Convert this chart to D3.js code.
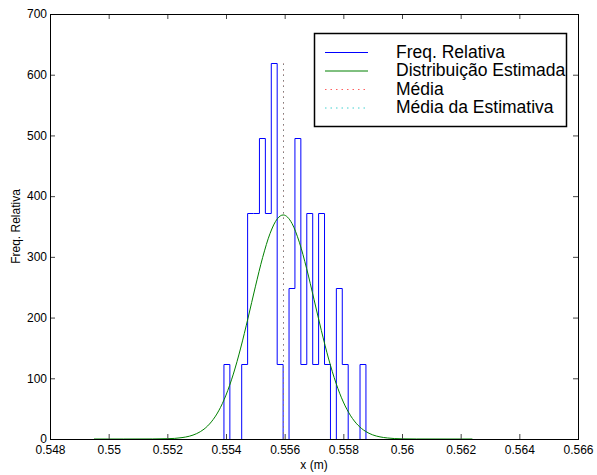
<!DOCTYPE html>
<html lang="pt">
<head>
    <meta charset="UTF-8">
    <title>Freq. Relativa</title>
    <script src="https://cdn.jsdelivr.net/npm/d3@7"></script>
    <style>
        body { margin: 0; background: #fff; }
        svg { font-family: "Liberation Sans", Arial, sans-serif; }
    </style>
</head>
<body>
    <svg id="mainsvg" width="597" height="475"></svg>
    <script>
        // histogram bin edges and relative frequency per bin
        const binEdges = [0.553930, 0.554132, 0.554333, 0.554535, 0.554737, 0.554939, 0.555140,
            0.555342, 0.555544, 0.555745, 0.555947, 0.556149, 0.556350, 0.556552, 0.556754,
            0.556956, 0.557157, 0.557359, 0.557561, 0.557762, 0.557964, 0.558166, 0.558367,
            0.558569, 0.558771];
        const binFreq = [123.9, 0, 0, 123.9, 371.8, 371.8, 495.8, 371.8, 619.7, 123.9, 0, 247.9,
            495.8, 123.9, 371.8, 123.9, 371.8, 123.9, 0, 247.9, 123.9, 0, 0, 123.9];

        // estimated distribution, points
        const curveX = [0.5495, 0.5505, 0.5515, 0.5520, 0.55225, 0.5525, 0.55275, 0.5530, 0.55325,
            0.5535, 0.55375, 0.5540, 0.55425, 0.5545, 0.55475, 0.5550, 0.55525, 0.5555, 0.55575,
            0.55595, 0.55625, 0.5565, 0.55675, 0.5570, 0.55725, 0.5575, 0.55775, 0.5580, 0.55825,
            0.5585, 0.55875, 0.5590, 0.55925, 0.5595, 0.5600, 0.5605, 0.5615, 0.5624];
        const curveY = [0, 0, 0.1, 0.5, 1.0, 2.3, 4.6, 8.9, 16.2, 28.2, 46.3, 72.3, 106.9, 149.8,
            199.0, 250.6, 299.1, 338.3, 362.7, 369.0, 355.0, 324.1, 280.5, 230.0, 178.8, 131.7,
            92.0, 60.9, 38.2, 22.7, 12.8, 6.8, 3.5, 1.7, 0.3, 0.05, 0, 0];

        const meanValue = 0.55593;
        const meanEstimate = 0.55594;

        const xTicks = [0.548, 0.55, 0.552, 0.554, 0.556, 0.558, 0.56, 0.562, 0.564, 0.566];
        const yTicks = [0, 100, 200, 300, 400, 500, 600, 700];

        const legendLabels = ["Freq. Relativa", "Distribuição Estimada", "Média", "Média da Estimativa"];

        const svg = d3.select("#mainsvg");
        const plot = {left: 50, right: 578, top: 14, bottom: 439};

        const x = d3.scaleLinear().domain([0.548, 0.566]).range([plot.left, plot.right]);
        const y = d3.scaleLinear().domain([0, 700]).range([plot.bottom, plot.top]);

        // stairs outline of the histogram (one continuous step line)
        const stairs = [[binEdges[0], 0]];
        binFreq.forEach((f, i) => {
            stairs.push([binEdges[i], f]);
            stairs.push([binEdges[i + 1], f]);
        });
        stairs.push([binEdges[binEdges.length - 1], 0]);

        svg.append("path")
            .datum(stairs)
            .attr("fill", "none")
            .attr("stroke", "#0000ff")
            .attr("stroke-width", 1)
            .attr("d", d3.line().x(d => x(d[0])).y(d => Math.round(y(d[1])) + 0.5));

        const curve = curveX.map((v, i) => [v, curveY[i]]);
        svg.append("path")
            .datum(curve)
            .attr("fill", "none")
            .attr("stroke", "#008000")
            .attr("stroke-width", 1)
            .attr("d", d3.line().x(d => x(d[0])).y(d => y(d[1])).curve(d3.curveMonotoneX));

        const topFreq = d3.max(binFreq);
        svg.append("line")
            .attr("x1", Math.round(x(meanValue)) + 0.5).attr("x2", Math.round(x(meanValue)) + 0.5)
            .attr("y1", y(0)).attr("y2", y(topFreq))
            .attr("stroke", "#ff0000").attr("stroke-dasharray", "1.5,4");
        svg.append("line")
            .attr("x1", Math.round(x(meanEstimate)) + 0.5).attr("x2", Math.round(x(meanEstimate)) + 0.5)
            .attr("y1", y(0)).attr("y2", y(topFreq))
            .attr("stroke", "#00ffff").attr("stroke-opacity", 0.5).attr("stroke-dasharray", "1.5,4");

        // axes, MATLAB style box with inward ticks
        const fmt = d => String(+d.toFixed(3));
        svg.append("g").attr("transform", `translate(0,${plot.bottom})`)
            .call(d3.axisBottom(x).tickValues(xTicks).tickFormat(fmt).tickSizeInner(-5).tickSizeOuter(0).tickPadding(6));
        svg.append("g").attr("transform", `translate(${plot.left},0)`)
            .call(d3.axisLeft(y).tickValues(yTicks).tickSizeInner(-5).tickSizeOuter(0).tickPadding(3));
        svg.append("g").attr("transform", `translate(0,${plot.top})`)
            .call(d3.axisTop(x).tickValues(xTicks).tickFormat("").tickSizeInner(-5).tickSizeOuter(0));
        svg.append("g").attr("transform", `translate(${plot.right},0)`)
            .call(d3.axisRight(y).tickValues(yTicks).tickFormat("").tickSizeInner(-5).tickSizeOuter(0));

        svg.selectAll(".domain").remove();
        svg.selectAll(".tick line").attr("stroke", "#444");
        svg.selectAll(".tick text").attr("font-size", "12px").attr("fill", "#000")
            .attr("font-family", "'Liberation Sans', Arial, sans-serif");

        svg.append("rect")
            .attr("x", plot.left + 0.5).attr("y", plot.top + 0.5)
            .attr("width", plot.right - plot.left).attr("height", plot.bottom - plot.top)
            .attr("fill", "none").attr("stroke", "#000");

        svg.append("text").text("x (m)")
            .attr("x", (plot.left + plot.right) / 2).attr("y", 469)
            .attr("text-anchor", "middle").attr("font-size", "12px");
        svg.append("text").text("Freq. Relativa")
            .attr("transform", `translate(20,${(plot.top + plot.bottom) / 2}) rotate(-90)`)
            .attr("text-anchor", "middle").attr("font-size", "12px");

        // legend
        const legend = svg.append("g");
        legend.append("rect")
            .attr("x", 314.5).attr("y", 33.5).attr("width", 252).attr("height", 93)
            .attr("fill", "#fff").attr("stroke", "#000").attr("stroke-width", 1.5);
        const legendStyle = [
            {stroke: "#0000ff", dash: null},
            {stroke: "#008000", dash: null},
            {stroke: "#ff6060", dash: "1.5,4"},
            {stroke: "#40d0d0", dash: "1.5,4"}
        ];
        const rowY = [52, 70.5, 89, 107.5];
        legendLabels.forEach((label, i) => {
            legend.append("line")
                .attr("x1", 325).attr("x2", 368)
                .attr("y1", rowY[i] + 0.5).attr("y2", rowY[i] + 0.5)
                .attr("stroke", legendStyle[i].stroke)
                .attr("stroke-dasharray", legendStyle[i].dash);
            legend.append("text").text(label)
                .attr("x", 396).attr("y", rowY[i] + 5.5)
                .attr("font-size", "17.5px");
        });
    </script>
</body>
</html>
